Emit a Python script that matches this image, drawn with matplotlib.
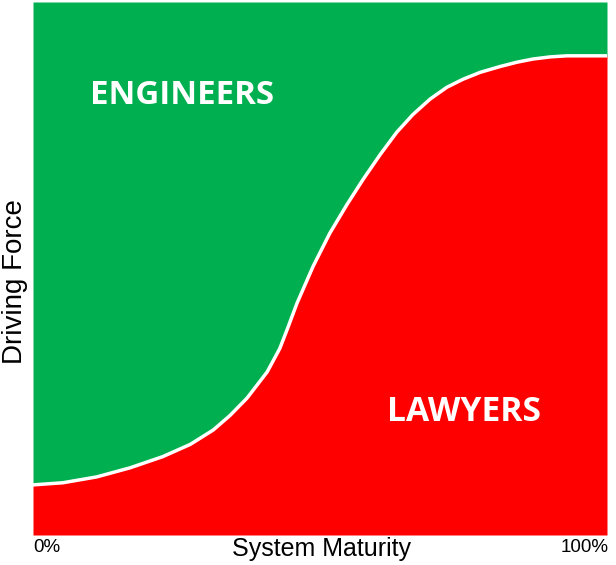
import matplotlib.pyplot as plt

# S-curve: maturity (%) vs share of driving force (%)
maturity = [0, 5.2, 11.1, 16.9, 22.6, 27.4, 31.4, 34.3, 37.3, 40.8, 43.0,
            44.4, 46.0, 48.8, 51.7, 54.7, 57.5, 60.5, 63.4, 66.2, 69.2,
            72.1, 74.9, 77.9, 81.4, 84.3, 87.1, 90.1, 93.0, 96.2, 100]
force = [9.4, 9.8, 10.9, 12.6, 14.7, 17.0, 19.7, 22.4, 25.7, 30.6, 35.0,
         38.9, 43.5, 50.4, 56.6, 62.0, 66.7, 71.4, 75.6, 78.9, 81.8,
         84.0, 85.5, 86.8, 87.9, 88.7, 89.3, 89.7, 89.9, 89.9, 89.9]

plt.rcParams['font.family'] = ['Liberation Sans', 'DejaVu Sans']

fig = plt.figure(figsize=(6.16, 5.65), dpi=100)
ax = fig.add_axes([33 / 616, 30 / 565, 574 / 616, 533 / 565])

# Red below the curve, green above it
ax.fill_between(maturity, 0, force, color='#FF0000', lw=0)
ax.fill_between(maturity, force, 100, color='#00B050', lw=0)
ax.plot(maturity, force, color='white', lw=2.5, solid_joinstyle='round')

ax.set_xlim(0, 100)
ax.set_ylim(0, 100)
ax.set_xticks([])
ax.set_yticks([])
for s in ax.spines.values():
    s.set_visible(False)

ax.text(26, 82.5, 'ENGINEERS', color='white', fontsize=23.8, fontweight='bold',
        family=['Open Sans', 'DejaVu Sans'], ha='center', va='center')
ax.text(75, 23, 'LAWYERS', color='white', fontsize=24.2, fontweight='bold',
        family=['Open Sans', 'DejaVu Sans'], ha='center', va='center')

fig.text(321 / 616, 16 / 565, 'System Maturity', fontsize=18,
         ha='center', va='center')
fig.text(15 / 616, 283 / 565, 'Driving Force', fontsize=20, rotation=90,
         ha='center', va='center')
fig.text(33 / 616, 18 / 565, '0%', fontsize=13.5, ha='left', va='center')
fig.text(609 / 616, 18 / 565, '100%', fontsize=13.5, ha='right', va='center')

fig.savefig('out.png', dpi=100)
